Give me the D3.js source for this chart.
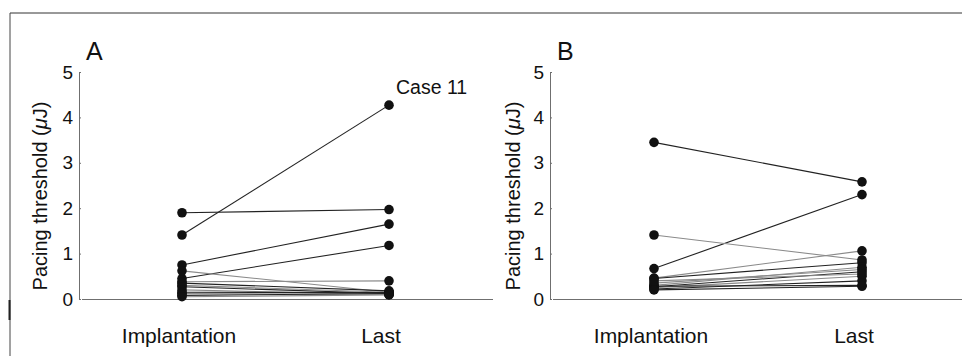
<!DOCTYPE html>
<html>
<head>
<meta charset="utf-8">
<script src="https://cdn.jsdelivr.net/npm/d3@7"></script>
<style>
  html, body { margin: 0; padding: 0; background: #fff; }
  svg { display: block; font-family: "Liberation Sans", Arial, sans-serif; }
</style>
</head>
<body>
<svg id="chart" width="962" height="356"></svg>
<script>
// Paired pacing thresholds (µJ): implantation vs last follow-up
const categories = ["Implantation", "Last"];
const yTicks = [0, 1, 2, 3, 4, 5];

const implantA = [1.41, 1.90, 0.75, 0.45, 0.62, 0.38, 0.35, 0.30, 0.27, 0.20, 0.15, 0.12, 0.08, 0.05];
const lastA    = [4.27, 1.97, 1.65, 1.18, 0.15, 0.40, 0.18, 0.15, 0.12, 0.10, 0.14, 0.10, 0.12, 0.09];
const shadeA   = [0, 0, 0, 0, 1, 1, 0, 1, 0, 1, 0, 1, 0, 1];

const implantB = [3.45, 0.67, 1.41, 0.46, 0.45, 0.30, 0.27, 0.25, 0.22, 0.28, 0.35, 0.40, 0.20];
const lastB    = [2.58, 2.30, 0.86, 1.06, 0.80, 0.70, 0.60, 0.50, 0.40, 0.30, 0.65, 0.55, 0.28];
const shadeB   = [0, 0, 1, 1, 0, 1, 0, 1, 0, 0, 1, 1, 0];

const panels = [
  { letter: "A", axisX: 79, xEnd: 493, cx: [182, 389], labelX: 40, implant: implantA, last: lastA, shade: shadeA, note: "Case 11" },
  { letter: "B", axisX: 550, xEnd: 962, cx: [654, 862], labelX: 513, implant: implantB, last: lastB, shade: shadeB, note: null },
];

const Y0 = 299, Y5 = 72;
const AXIS_COLOR = "#6f6f6f";
const svg = d3.select("#chart");

// Frame lines
svg.append("line").attr("x1", 10).attr("x2", 962).attr("y1", 13).attr("y2", 13)
  .attr("stroke", "#333").attr("stroke-width", 1);
svg.append("line").attr("x1", 10).attr("x2", 10).attr("y1", 13).attr("y2", 356)
  .attr("stroke", "#444").attr("stroke-width", 1);
svg.append("line").attr("x1", 9.5).attr("x2", 9.5).attr("y1", 300).attr("y2", 320)
  .attr("stroke", "#222").attr("stroke-width", 2);

const yScale = d3.scaleLinear().domain([0, 5]).range([Y0, Y5]);

for (const p of panels) {
  const g = svg.append("g");
  const xScale = d3.scaleOrdinal().domain(categories).range(p.cx);

  // x baseline
  g.append("line").attr("x1", p.axisX + 3).attr("x2", p.xEnd).attr("y1", Y0 + 0.5).attr("y2", Y0 + 0.5)
    .attr("stroke", AXIS_COLOR).attr("stroke-width", 1.2);

  // y axis
  g.append("g").attr("transform", `translate(${p.axisX},0)`)
    .call(d3.axisLeft(yScale).tickValues(yTicks).tickSize(-2).tickPadding(6).tickFormat(d3.format("d")))
    .call(ax => ax.select(".domain").attr("stroke", AXIS_COLOR).attr("d", `M0.5,${Y0}V${Y5}`))
    .call(ax => ax.selectAll(".tick line").attr("stroke", AXIS_COLOR))
    .call(ax => ax.selectAll(".tick text").attr("font-size", "19px").attr("fill", "#111")
      .attr("font-family", "Liberation Sans, Arial, sans-serif"));

  // y label
  g.append("text").attr("transform", `translate(${p.labelX},${(Y0 + 93) / 2}) rotate(-90)`)
    .attr("text-anchor", "middle").attr("dy", "0.35em").attr("font-size", "20px").attr("fill", "#111")
    .html("Pacing threshold (<tspan font-style='italic'>μ</tspan>J)");

  // panel letter
  g.append("text").attr("x", p.axisX + 7).attr("y", 60)
    .attr("font-size", "25px").attr("fill", "#111").text(p.letter);

  // category labels
  categories.forEach((c, i) => {
    g.append("text").attr("x", xScale(c) - (i === 0 ? 3 : 8)).attr("y", 343)
      .attr("text-anchor", "middle").attr("font-size", "21px").attr("fill", "#111").text(c);
  });

  // paired lines
  p.implant.forEach((v, i) => {
    g.append("line")
      .attr("x1", xScale(categories[0])).attr("y1", yScale(v))
      .attr("x2", xScale(categories[1])).attr("y2", yScale(p.last[i]))
      .attr("stroke", p.shade[i] ? "#8a8a8a" : "#222").attr("stroke-width", 1.1);
  });

  // dots
  const dots = [
    ...p.implant.map(v => [categories[0], v]),
    ...p.last.map(v => [categories[1], v]),
  ];
  g.selectAll("circle.dot").data(dots).join("circle")
    .attr("class", "dot")
    .attr("cx", d => xScale(d[0])).attr("cy", d => yScale(d[1]))
    .attr("r", 4.8).attr("fill", "#111");

  if (p.note) {
    const iMax = d3.maxIndex(p.last);
    g.append("text").attr("x", xScale(categories[1]) + 7).attr("y", yScale(p.last[iMax]) - 11)
      .attr("font-size", "19.5px").attr("fill", "#111").text(p.note);
  }
}
</script>
</body>
</html>
